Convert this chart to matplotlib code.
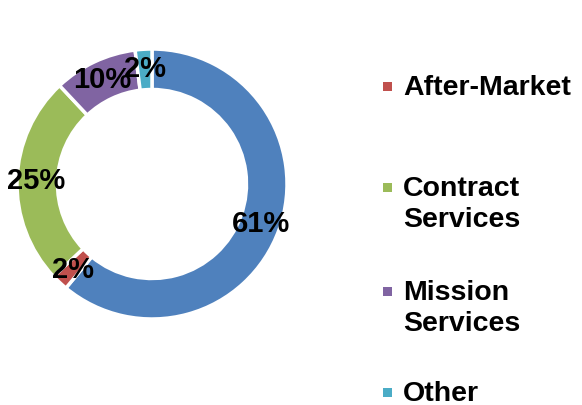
import matplotlib
matplotlib.use("Agg")
import matplotlib.pyplot as plt
from matplotlib.patches import Rectangle
import numpy as np

# data
slice_values = [61, 2, 25, 10, 2]
slice_colors = ["#4F81BD", "#C0504D", "#9BBB59", "#8064A2", "#4BACC6"]
legend_labels = ["After-Market", "Contract\nServices", "Mission\nServices", "Other"]
legend_colors = slice_colors[1:]

W, H = 582, 406
fig = plt.figure(figsize=(W / 100, H / 100), dpi=100)
plt.rcParams['font.family'] = ['Liberation Sans', 'DejaVu Sans']

cx, cy, R = 152, 185, 135
ax = fig.add_axes([(cx - R) / W, (H - cy - R) / H, 2 * R / W, 2 * R / H])
wedges, texts, autotexts = ax.pie(
    slice_values, colors=slice_colors, startangle=90, counterclock=False,
    radius=1.0, autopct=lambda p: f"{p:.0f}%", pctdistance=0.86,
    wedgeprops=dict(width=0.3, edgecolor="white", linewidth=2.5),
    textprops=dict(fontsize=21, fontweight="bold", color="black"))
ax.set_xlim(-1, 1)
ax.set_ylim(-1, 1)
ax.set_aspect("equal")
ax.axis("off")

# legend drawn manually
marker_y = [87, 188, 292, 393]
for lab, col, my in zip(legend_labels, legend_colors, marker_y):
    s = 9
    fig.patches.append(Rectangle(((383) / W, (H - my - s / 2) / H), s / W, s / H,
                                 transform=fig.transFigure, facecolor=col, edgecolor="none"))
    fig.text(403 / W, (H - my + 12) / H, lab, fontsize=20.5, fontweight="bold",
             ha="left", va="top", linespacing=1.25)

fig.savefig("out.png", dpi=100)
